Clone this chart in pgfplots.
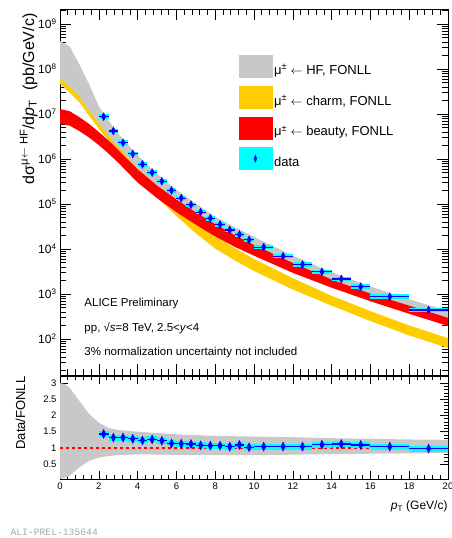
\documentclass[border=0pt]{standalone}
\usepackage{pgfplots}
\pgfplotsset{compat=1.18}
\usepackage{pgfplotstable}
\usepgfplotslibrary{fillbetween}
\usepackage{fontspec}
\setmainfont{Liberation Sans}
\setmonofont{Liberation Mono}
\definecolor{hfgray}{HTML}{C8C8C8}
\definecolor{charmY}{HTML}{FFCC00}
\definecolor{beautyR}{HTML}{FF0000}
\definecolor{datacyan}{HTML}{00FFFF}
\definecolor{datablue}{HTML}{0000FF}

\pgfplotstableread{
pt    hfu     hfl     cu      cl      bu      bl
0     4.17e8  6.0e7   3.16e8  4.68e7  1.29e7  6.0e6
0.5   3.16e8  4.17e7  2.24e8  3.0e7   1.15e7  5.5e6
1     1.26e8  2.4e7   1.0e8   1.82e7  8.5e6   4.17e6
1.5   4.57e7  1.2e7   3.55e7  9.1e6   6.0e6   3.0e6
2     1.48e7  6.2e6   1.12e7  4.68e6  3.98e6  2.04e6
2.5   7.2e6   3.27e6  5.25e6  2.57e6  2.57e6  1.32e6
3     3.63e6  1.82e6  2.82e6  1.51e6  1.58e6  8.3e5
4     1.2e6   6.3e5   7.9e5   4.17e5  5.9e5   3.0e5
5     4.7e5   2.57e5  2.63e5  1.41e5  2.57e5  1.35e5
6     2.05e5  1.14e5  1.0e5   5.4e4   1.26e5  6.6e4
7     1.02e5  5.6e4   4.17e4  2.24e4  6.5e4   3.47e4
8     5.2e4   2.96e4  1.9e4   1.02e4  3.55e4  1.9e4
9     3.05e4  1.74e4  1.05e4  5.6e3   2.04e4  1.12e4
10    1.86e4  1.07e4  6.0e3   3.24e3  1.23e4  7.1e3
12    7.1e3   4.27e3  2.24e3  1.26e3  4.9e3   2.95e3
14    3.04e3  1.9e3   9.1e2   5.5e2   2.09e3  1.38e3
16    1.47e3  9.4e2   4.17e2  2.51e2  1.02e3  6.9e2
18    7.6e2   5.0e2   2.0e2   1.2e2   5.5e2   3.63e2
20    4.2e2   2.8e2   1.05e2  63      2.95e2  1.95e2
}\bands

\pgfplotstableread{
pt    u     l
0     3.0   0.05
0.25  2.97  0.08
0.5   2.85  0.14
0.75  2.65  0.27
1     2.45  0.40
1.5   2.05  0.60
2     1.78  0.70
2.5   1.62  0.75
3     1.55  0.78
4     1.50  0.80
5     1.46  0.795
6     1.42  0.785
8     1.37  0.78
10    1.35  0.78
12    1.33  0.79
14    1.30  0.81
16    1.28  0.82
18    1.26  0.83
20    1.25  0.84
}\ratioband

\pgfplotstableread{
pt    xe    val     ratio  ye
2.25  0.25  8.7e6   1.43   0.02
2.75  0.25  4.2e6   1.32   0.02
3.25  0.25  2.3e6   1.32   0.02
3.75  0.25  1.3e6   1.28   0.02
4.25  0.25  7.6e5   1.23   0.02
4.75  0.25  5.0e5   1.26   0.02
5.25  0.25  3.2e5   1.22   0.02
5.75  0.25  2.0e5   1.14   0.02
6.25  0.25  1.35e5  1.13   0.02
6.75  0.25  9.6e4   1.12   0.02
7.25  0.25  6.6e4   1.08   0.02
7.75  0.25  4.8e4   1.07   0.02
8.25  0.25  3.5e4   1.07   0.03
8.75  0.25  2.65e4  1.04   0.03
9.25  0.25  2.1e4   1.09   0.03
9.75  0.25  1.6e4   1.02   0.03
10.5  0.5   1.1e4   1.04   0.03
11.5  0.5   6.9e3   1.04   0.03
12.5  0.5   4.5e3   1.04   0.03
13.5  0.5   3.1e3   1.10   0.04
14.5  0.5   2.15e3  1.12   0.04
15.5  0.5   1.45e3  1.09   0.05
17    1     8.7e2   1.04   0.06
19    1     4.4e2   0.98   0.08
}\data

\newcommand{\larr}{\ensuremath{\leftarrow}}

\begin{document}
\begin{tikzpicture}

% ---------------- top panel ----------------
\begin{axis}[
  at={(60pt,163pt)}, anchor=south west,
  scale only axis, width=388pt, height=366pt,
  xmin=0, xmax=20, ymode=log, log basis y=10, ymin=15.85, ymax=2.15e9,
  xtick={0,2,...,20}, xticklabels={}, minor x tick num=4,
  ytick={1e2,1e3,1e4,1e5,1e6,1e7,1e8,1e9},
  minor ytick={20,30,40,50,60,70,80,90,
    200,300,400,500,600,700,800,900,
    2e3,3e3,4e3,5e3,6e3,7e3,8e3,9e3,
    2e4,3e4,4e4,5e4,6e4,7e4,8e4,9e4,
    2e5,3e5,4e5,5e5,6e5,7e5,8e5,9e5,
    2e6,3e6,4e6,5e6,6e6,7e6,8e6,9e6,
    2e7,3e7,4e7,5e7,6e7,7e7,8e7,9e7,
    2e8,3e8,4e8,5e8,6e8,7e8,8e8,9e8,2e9},
  yticklabels={10\textsuperscript{2},10\textsuperscript{3},10\textsuperscript{4},10\textsuperscript{5},10\textsuperscript{6},10\textsuperscript{7},10\textsuperscript{8},10\textsuperscript{9}},
  yticklabel style={font=\fontsize{12}{14}\selectfont},
  tick style={black, line width=0.6pt},
  major tick length=11pt, minor tick length=6pt,
  axis line style={line width=0.8pt},
  clip mode=individual,
  legend cell align=left,
  legend style={draw=none, fill=none, at={(0.46,0.875)}, anchor=north west,
    inner sep=0pt, row sep=8pt, font=\fontsize{13}{15}\selectfont},
]
% charm band
\addplot[name path=cU, draw=none, forget plot] table[x=pt, y=cu] {\bands};
\addplot[name path=cL, draw=none, forget plot] table[x=pt, y=cl] {\bands};
\addplot[charmY, forget plot] fill between[of=cU and cL];
% HF band
\addplot[name path=hU, draw=none, forget plot] table[x=pt, y=hfu] {\bands};
\addplot[name path=hL, draw=none, forget plot] table[x=pt, y=hfl] {\bands};
\addplot[hfgray, forget plot] fill between[of=hU and hL];
% beauty band
\addplot[name path=bU, draw=none, forget plot] table[x=pt, y=bu] {\bands};
\addplot[name path=bL, draw=none, forget plot] table[x=pt, y=bl] {\bands};
\addplot[beautyR, forget plot] fill between[of=bU and bL];

% data: systematic boxes
\addplot[datacyan, only marks, mark=*, mark size=0pt, forget plot,
  error bars/.cd, x dir=both, x explicit, error mark=none,
  error bar style={datacyan, line width=4.5pt}]
  table[x=pt, y=val, x error=xe] {\data};
% data: points and bars
\addplot[datablue, only marks, mark=diamond*, mark size=4pt,
  mark options={datablue, xscale=0.7}, forget plot,
  error bars/.cd, x dir=both, x explicit, y dir=both, y explicit relative,
  error mark=none, error bar style={datablue, line width=1.2pt}]
  table[x=pt, y=val, x error=xe, y error=ye] {\data};

\addlegendimage{legend image code/.code={\fill[hfgray] (0pt,-7pt) rectangle (33pt,15pt);}}
\addlegendentry{μ\textsuperscript{±} \larr{} HF, FONLL}
\addlegendimage{legend image code/.code={\fill[charmY] (0pt,-7pt) rectangle (33pt,15pt);}}
\addlegendentry{μ\textsuperscript{±} \larr{} charm, FONLL}
\addlegendimage{legend image code/.code={\fill[beautyR] (0pt,-7pt) rectangle (33pt,15pt);}}
\addlegendentry{μ\textsuperscript{±} \larr{} beauty, FONLL}
\addlegendimage{legend image code/.code={\fill[datacyan] (0pt,-7pt) rectangle (33pt,15pt);
  \fill[datablue] (16.5pt,0.5pt) -- (18pt,4pt) -- (16.5pt,7.5pt) -- (15pt,4pt) -- cycle;}}
\addlegendentry{data}

\node[anchor=base west, font=\fontsize{11.5}{13}\selectfont] at (rel axis cs:0.054,0.186) {ALICE Preliminary};
\node[anchor=base west, font=\fontsize{11.5}{13}\selectfont] at (rel axis cs:0.054,0.1175) {pp, √\textit{s}=8 TeV, 2.5<\textit{y}<4};
\node[anchor=base west, font=\fontsize{11.5}{13}\selectfont] at (rel axis cs:0.054,0.052) {3\% normalization uncertainty not included};

\node[rotate=90, anchor=base east, font=\fontsize{16}{19}\selectfont] at (rel axis cs:-0.067,0.997)
  {dσ\textsuperscript{μ\larr{} HF}/d\textit{p}\textsubscript{T}\ \ (pb/GeV/c)};
\end{axis}

% ---------------- ratio panel ----------------
\begin{axis}[
  at={(60pt,59pt)}, anchor=south west,
  scale only axis, width=388pt, height=103pt,
  xmin=0, xmax=20, ymin=0.04, ymax=3.22,
  xtick={0,2,...,20}, minor x tick num=4,
  ytick={0.5,1,1.5,2,2.5,3}, minor y tick num=4,
  ticklabel style={font=\fontsize{9.5}{11}\selectfont},
  /pgf/number format/assume math mode=true,
  tick style={black, line width=0.6pt},
  major tick length=8pt, minor tick length=4pt,
  axis line style={line width=0.8pt},
  clip mode=individual,
]
\addplot[name path=rU, draw=none, forget plot] table[x=pt, y=u] {\ratioband};
\addplot[name path=rL, draw=none, forget plot] table[x=pt, y=l] {\ratioband};
\addplot[hfgray, forget plot] fill between[of=rU and rL];

\addplot[red, line width=1.2pt, dash pattern=on 3pt off 3pt, forget plot] coordinates {(0,1) (20,1)};

\addplot[datacyan, only marks, mark=*, mark size=0pt, forget plot,
  error bars/.cd, x dir=both, x explicit, error mark=none,
  error bar style={datacyan, line width=6pt}]
  table[x=pt, y=ratio, x error=xe] {\data};
\addplot[datablue, only marks, mark=diamond*, mark size=4.5pt,
  mark options={datablue, xscale=0.65}, forget plot,
  error bars/.cd, x dir=both, x explicit, y dir=both, y explicit relative,
  error mark=none, error bar style={datablue, line width=1.2pt}]
  table[x=pt, y=ratio, x error=xe, y error=ye] {\data};

\node[rotate=90, anchor=base, font=\fontsize{13}{15}\selectfont] at (rel axis cs:-0.09,0.64) {Data/FONLL};
\node[anchor=base east, font=\fontsize{12}{14}\selectfont] at (rel axis cs:1.008,-0.30) {\textit{p}\textsubscript{T} (GeV/c)};
\node[anchor=base west, font=\fontsize{9.7}{11}\ttfamily, text=black!35] at (rel axis cs:-0.1366,-0.544) {ALI-PREL-135644};
\end{axis}

\pgfresetboundingbox
\useasboundingbox (0pt,0pt) rectangle (452pt,538pt);
\end{tikzpicture}
\end{document}
